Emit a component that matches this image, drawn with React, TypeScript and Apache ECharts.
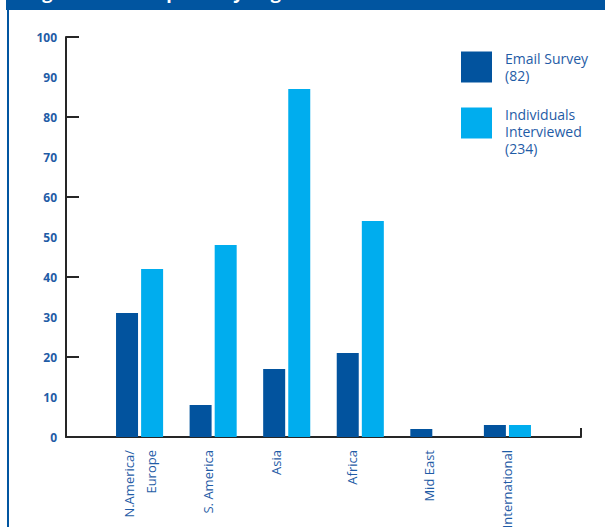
import React, { useEffect, useRef } from "react";
import * as echarts from "echarts";

const categories = ["", "N.America/\nEurope", "S. America", "Asia", "Africa", "Mid East", "International", ""];
const emailSurvey = ["-", 31, 8, 17, 21, 2, 3, "-"];
const individualsInterviewed = ["-", 42, 48, 87, 54, 0, 3, "-"];
const seriesNames = ["Email Survey", "Individuals\nInterviewed"];
const seriesCounts = [82, 234];
const yLabelTicks = [0, 10, 20, 30, 40, 50, 60, 70, 80, 90, 100];

// label placement tweak (line height of a trailing blank line, shifts rotated label left)
const labelNudge = [0, 0, 10, 22, 16, 10, 0, 0];

const DARK = "#02539e";
const LIGHT = "#00adee";
const TEXT_BLUE = "#1f5ca6";
const AXIS = "#262626";

export default function App() {
  const ref = useRef<HTMLDivElement>(null);
  useEffect(() => {
    if (!ref.current) return;
    const chart = echarts.init(ref.current, null, { renderer: "svg" });
    const lastIdx = categories.length - 1;
    const legendText = (name: string) => {
      const i = seriesNames.indexOf(name);
      const lead = i === 1 ? "\n" : "";
      return lead + name + "\n(" + seriesCounts[i] + ")";
    };
    const legendBase = {
      orient: "vertical",
      left: 456,
      itemWidth: 31,
      itemHeight: 31,
      icon: "rect",
      selectedMode: false,
      formatter: legendText,
      textStyle: { color: TEXT_BLUE, fontSize: 14, lineHeight: 17, fontFamily: "Open Sans", padding: [0, 0, 0, 8] },
    };
    const xData = categories.map((c, i) =>
      labelNudge[i] ? { value: c, textStyle: { lineHeight: labelNudge[i] } } : c
    );
    chart.setOption({
      animation: false,
      backgroundColor: "#ffffff",
      title: {
        text: "Figure 1: Participants by Region",
        left: 27,
        top: -17,
        padding: 0,
        textStyle: { color: "#ffffff", fontSize: 18, fontWeight: "bold", fontFamily: "Open Sans" },
        z: 10,
      },
      graphic: [
        { type: "rect", shape: { x: 6, y: 0, width: 599, height: 10 }, style: { fill: "#0155a0" }, z: -1 },
        { type: "rect", shape: { x: 7, y: 10, width: 2, height: 517 }, style: { fill: "#0155a0" }, z: -1 },
      ],
      legend: [
        { ...legendBase, top: 45, data: [seriesNames[0]] },
        { ...legendBase, top: 84, data: [seriesNames[1]] },
      ],
      grid: { left: 66, right: 24, top: 37, height: 400, containLabel: false, outerBoundsMode: "none" },
      xAxis: {
        type: "category",
        data: xData,
        boundaryGap: false,
        axisLine: { show: true, lineStyle: { color: AXIS, width: 2 } },
        axisTick: {
          show: true,
          inside: true,
          length: 9,
          interval: (idx: number) => idx === lastIdx,
          lineStyle: { color: AXIS, width: 2 },
        },
        axisLabel: {
          interval: 0,
          rotate: 90,
          margin: 13,
          color: TEXT_BLUE,
          fontSize: 13,
          lineHeight: 22,
          fontFamily: "Open Sans",
          formatter: (v: string, idx: number) => (labelNudge[idx] ? v + "\n " : v),
        },
        splitLine: { show: false },
      },
      yAxis: [
        {
          type: "value",
          min: 0,
          max: 100,
          interval: 10,
          position: "left",
          axisLine: { show: true, lineStyle: { color: AXIS, width: 2 } },
          axisTick: { show: false },
          splitLine: { show: false },
          axisLabel: {
            margin: 9,
            color: TEXT_BLUE,
            fontSize: 12,
            fontWeight: "bold",
            fontFamily: "Open Sans",
            formatter: (v: number) => (yLabelTicks.indexOf(v) >= 0 ? String(v) : ""),
          },
        },
        {
          type: "value",
          min: 0,
          max: 100,
          interval: 20,
          position: "left",
          offset: 0,
          axisLine: { show: false },
          axisTick: { show: true, inside: true, length: 13, lineStyle: { color: AXIS, width: 2 } },
          axisLabel: { show: false },
          splitLine: { show: false },
        },
      ],
      series: [
        {
          name: seriesNames[0],
          type: "bar",
          data: emailSurvey,
          barWidth: 22,
          barGap: "14%",
          itemStyle: { color: DARK },
        },
        {
          name: seriesNames[1],
          type: "bar",
          data: individualsInterviewed,
          barWidth: 22,
          barGap: "14%",
          itemStyle: { color: LIGHT },
        },
      ],
    });
    return () => chart.dispose();
  }, []);
  return <div ref={ref} style={{ position: "fixed", left: 0, top: 0, width: 605, height: 527 }} />;
}
